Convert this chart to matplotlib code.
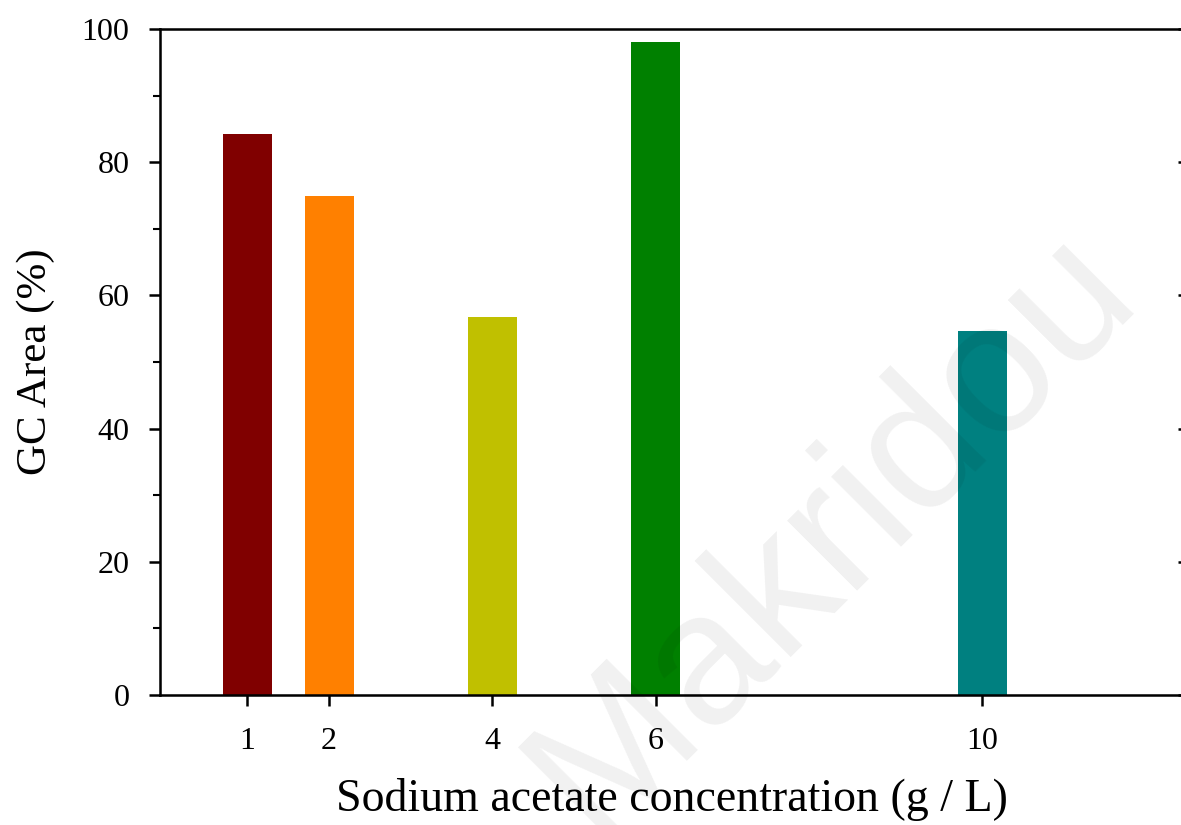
import matplotlib.pyplot as plt
import numpy as np

# sodium acetate concentration (g/L) vs GC area (%)
concentration = [1, 2, 4, 6, 10]
gc_area = [84.2, 74.9, 56.8, 98.0, 54.6]
bar_colors = ['#800000', '#FF8000', '#C0C000', '#008000', '#008080']
y_ticks = [0, 20, 40, 60, 80, 100]

plt.rcParams['font.family'] = ['Liberation Serif', 'DejaVu Serif']

fig = plt.figure(figsize=(11.81, 8.25), dpi=100)
ax = fig.add_axes([0.1355, 0.1576, 0.8670, 0.8072])

ax.bar(concentration, gc_area, width=0.6, color=bar_colors, zorder=2)

ax.set_xlim(-0.07, 12.47)
ax.set_ylim(0, 100)
ax.set_xticks(concentration)
ax.set_xticklabels([str(c) for c in concentration])
ax.set_yticks(y_ticks)
ax.set_yticks(np.arange(10, 100, 20), minor=True)

for s in ax.spines.values():
    s.set_linewidth(1.8)

ax.tick_params(axis='y', which='major', direction='out', length=8, width=1.8,
               labelsize=23, pad=14)
ax.tick_params(axis='y', which='minor', direction='out', length=5, width=1.5)
ax.tick_params(axis='x', which='major', direction='out', length=8, width=1.8,
               labelsize=23, pad=15)

ax.set_xlabel('Sodium acetate concentration (g / L)', fontsize=33, labelpad=16)
ax.set_ylabel('GC Area (%)', fontsize=31, labelpad=19)

# inward ticks on the right-hand axis
axr = ax.twinx()
axr.set_ylim(ax.get_ylim())
axr.set_yticks(y_ticks)
axr.tick_params(axis='y', direction='in', length=4.5, width=1.8, labelright=False)
axr.spines['right'].set_linewidth(1.8)

# author watermark
fig.text(0.705, 0.355, 'Makridou', fontsize=135, rotation=45,
         color='black', alpha=0.06, ha='center', va='center',
         family='Liberation Sans', zorder=5)

fig.savefig('out.png', dpi=100)
